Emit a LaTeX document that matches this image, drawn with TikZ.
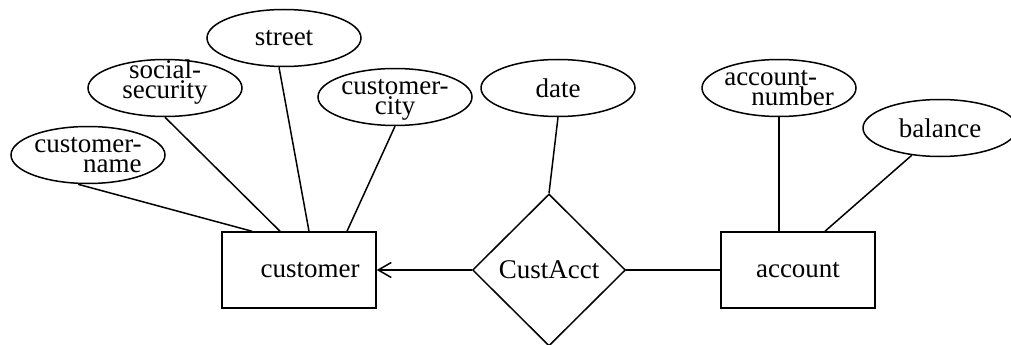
\documentclass[tikz,border=0pt]{standalone}
\usepackage{fontspec}
\setmainfont{Liberation Serif}
\usetikzlibrary{shapes.geometric,arrows.meta}

\begin{document}
\begin{tikzpicture}[x=1pt,y=-1pt,line width=1.5pt,
    font=\fontsize{27}{20}\selectfont,
    entity/.style={draw,rectangle,minimum width=154pt,minimum height=76pt,inner sep=0pt},
    attrib/.style={draw,ellipse,minimum width=154pt,minimum height=57pt,inner sep=-10pt,align=center},
    relship/.style={draw,diamond,minimum width=153pt,minimum height=152pt,inner sep=0pt}]
  \useasboundingbox (0,0) rectangle (1011,345);
  % entity sets and the relationship between them
  \node[entity] (customer) at (299,270) {\hspace*{22pt}customer};
  \node[entity] (account) at (798,270) {account};
  \node[relship] (custacct) at (549,270) {CustAcct};
  % attributes
  \node[attrib,align=right] (cname) at (88,155) {customer-\\name};
  \node[attrib,text depth=18pt] (social) at (165,88) {social-\\security};
  \node[attrib] (street) at (284,38) {street};
  \node[attrib,text depth=-4pt] (ccity) at (395,97) {customer-\\city};
  \node[attrib] (date) at (558,88) {date};
  \node[attrib,align=left] (acctnum) at (779,88) {account-\\\hspace*{27pt}number};
  \node[attrib] (balance) at (940,128) {balance};
  % attribute links
  \draw ([xshift=-10pt]cname.south) -- ([xshift=-47pt]customer.north);
  \draw (social.south) -- ([xshift=-19pt]customer.north);
  \draw ([xshift=-5pt]street.south) -- ([xshift=10pt]customer.north);
  \draw (ccity.south) -- ([xshift=48pt]customer.north);
  \draw (date.south) -- (custacct.north);
  \draw (acctnum.south) -- ([xshift=-19pt]account.north);
  \draw (balance.224) -- ([xshift=27pt]account.north);
  % relationship links
  \draw[-{Straight Barb[length=13pt,width=15pt]}] (custacct.west) -- (customer.east);
  \draw (custacct.east) -- (account.west);
\end{tikzpicture}
\end{document}
